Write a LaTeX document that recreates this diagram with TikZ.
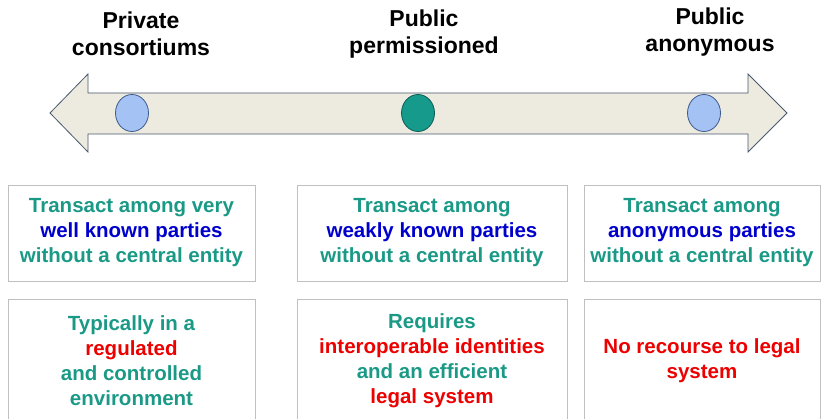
\documentclass[tikz,border=0pt]{standalone}
\usepackage{fontspec}
\setmainfont{Liberation Sans}
\usepackage{tikz}
\usetikzlibrary{shapes.geometric}
\definecolor{tealtxt}{RGB}{26,154,134}
\definecolor{bluetxt}{RGB}{0,0,204}
\definecolor{redtxt}{RGB}{236,0,0}
\definecolor{arrowfill}{RGB}{237,234,224}
\definecolor{arrowline}{RGB}{72,88,110}
\definecolor{dotblue}{RGB}{164,194,244}
\definecolor{dotteal}{RGB}{21,154,140}
\definecolor{dotline}{RGB}{60,90,140}
\definecolor{boxline}{RGB}{192,192,192}

\begin{document}
\begin{tikzpicture}[x=1pt,y=-1pt,
  title/.style={font=\fontsize{23}{27}\selectfont\bfseries, align=center},
  infobox/.style={draw=boxline, line width=0.9pt, minimum height=96pt, align=center,
    font=\fontsize{20.5}{25}\selectfont\bfseries, text=tealtxt},
  dot/.style={ellipse, draw=dotline, line width=0.8pt, minimum width=33pt, minimum height=37pt}]
\useasboundingbox (0,0) rectangle (821,419);
% arrow
\draw [arrowline, fill=arrowfill, line width=0.8pt] (50,113) -- (88,74) -- (88,93) -- (748,93)
  -- (748,74) -- (787,113) -- (748,152) -- (748,134) -- (88,134) -- (88,152) -- cycle;
% dots
\node [dot, fill=dotblue] (priv dot) at (132,113) {};
\node [dot, fill=dotteal, draw=dotteal!60!black] (perm dot) at (418,113) {};
\node [dot, fill=dotblue] (anon dot) at (704,113) {};
% titles
\node [title] (priv) at (141,34) {Private\\consortiums};
\node [title] (perm) at (424,34) {Public\\permissioned};
\node [title] (anon) at (710,32) {Public\\anonymous};
% first row
\node [infobox, minimum width=247pt] (priv who) at (131.5,233)
  {Transact among very\\\textcolor{bluetxt}{well known parties}\\without a central entity};
\node [infobox, minimum width=270pt] (perm who) at (432,233)
  {Transact among\\\textcolor{bluetxt}{weakly known parties}\\without a central entity};
\node [infobox, minimum width=236pt] (anon who) at (702,233)
  {Transact among\\\textcolor{bluetxt}{anonymous parties}\\without a central entity};
% second row
\node [infobox, minimum width=247pt, minimum height=123pt] (priv law) at (131.5,360.5)
  {Typically in a\\\textcolor{redtxt}{regulated}\\and controlled\\environment};
\node [infobox, minimum width=270pt, minimum height=123pt] (perm law) at (432,360.5)
  {Requires\\\textcolor{redtxt}{interoperable identities}\\and an efficient\\\textcolor{redtxt}{legal system}};
\node [infobox, minimum width=236pt, minimum height=123pt, text=redtxt] (anon law) at (702,360.5)
  {No recourse to legal\\system};
\end{tikzpicture}
\end{document}
